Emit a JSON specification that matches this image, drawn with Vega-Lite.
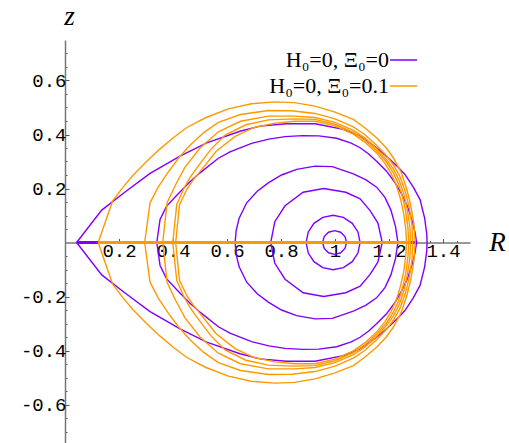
{
  "$schema": "https://vega.github.io/schema/vega-lite/v6.json",
  "width": 405,
  "height": 405,
  "autosize": {"type": "none"},
  "padding": {"left": 65, "top": 40, "right": 39, "bottom": 0},
  "background": "white",
  "config": {"view": {"stroke": null}},
  "resolve": {"axis": {"x": "independent", "y": "independent"}},
  "datasets": {
    "pur": [
      {"c":"p1","R":0.954,"z":0},{"c":"p1","R":0.96,"z":0.022},{"c":"p1","R":0.976,"z":0.038},{"c":"p1","R":0.9985,"z":0.044},{"c":"p1","R":1.021,"z":0.038},{"c":"p1","R":1.037,"z":0.022},{"c":"p1","R":1.043,"z":0},
      {"c":"p1","R":1.037,"z":-0.022},{"c":"p1","R":1.021,"z":-0.038},{"c":"p1","R":0.9985,"z":-0.044},{"c":"p1","R":0.976,"z":-0.038},{"c":"p1","R":0.96,"z":-0.022},{"c":"p1","R":0.954,"z":0},
      {"c":"p2","R":0.893,"z":0},{"c":"p2","R":0.901,"z":0.039},{"c":"p2","R":0.922,"z":0.071},{"c":"p2","R":0.955,"z":0.093},{"c":"p2","R":0.993,"z":0.101},{"c":"p2","R":1.031,"z":0.093},{"c":"p2","R":1.064,"z":0.071},{"c":"p2","R":1.085,"z":0.039},{"c":"p2","R":1.093,"z":0},
      {"c":"p2","R":1.085,"z":-0.039},{"c":"p2","R":1.064,"z":-0.071},{"c":"p2","R":1.031,"z":-0.093},{"c":"p2","R":0.993,"z":-0.101},{"c":"p2","R":0.955,"z":-0.093},{"c":"p2","R":0.922,"z":-0.071},{"c":"p2","R":0.901,"z":-0.039},{"c":"p2","R":0.893,"z":0},
      {"c":"p3","R":0.762,"z":0},{"c":"p3","R":0.777,"z":0.077},{"c":"p3","R":0.815,"z":0.136},{"c":"p3","R":0.882,"z":0.186},{"c":"p3","R":0.958,"z":0.2},{"c":"p3","R":1.04,"z":0.186},{"c":"p3","R":1.093,"z":0.162},{"c":"p3","R":1.13,"z":0.118},{"c":"p3","R":1.159,"z":0.072},{"c":"p3","R":1.175,"z":0},
      {"c":"p3","R":1.159,"z":-0.072},{"c":"p3","R":1.13,"z":-0.118},{"c":"p3","R":1.093,"z":-0.162},{"c":"p3","R":1.04,"z":-0.186},{"c":"p3","R":0.958,"z":-0.2},{"c":"p3","R":0.882,"z":-0.186},{"c":"p3","R":0.815,"z":-0.136},{"c":"p3","R":0.777,"z":-0.077},{"c":"p3","R":0.762,"z":0},
      {"c":"p4","R":0.63,"z":0},{"c":"p4","R":0.634,"z":0.045},{"c":"p4","R":0.645,"z":0.09},{"c":"p4","R":0.673,"z":0.147},{"c":"p4","R":0.712,"z":0.19},{"c":"p4","R":0.753,"z":0.221},{"c":"p4","R":0.802,"z":0.25},{"c":"p4","R":0.858,"z":0.271},{"c":"p4","R":0.926,"z":0.283},{"c":"p4","R":0.99,"z":0.281},{"c":"p4","R":1.068,"z":0.254},{"c":"p4","R":1.115,"z":0.232},{"c":"p4","R":1.154,"z":0.205},{"c":"p4","R":1.185,"z":0.167},{"c":"p4","R":1.207,"z":0.12},{"c":"p4","R":1.224,"z":0.06},{"c":"p4","R":1.233,"z":0},
      {"c":"p4","R":1.224,"z":-0.06},{"c":"p4","R":1.207,"z":-0.12},{"c":"p4","R":1.185,"z":-0.167},{"c":"p4","R":1.154,"z":-0.205},{"c":"p4","R":1.115,"z":-0.232},{"c":"p4","R":1.068,"z":-0.254},{"c":"p4","R":0.99,"z":-0.281},{"c":"p4","R":0.926,"z":-0.283},{"c":"p4","R":0.858,"z":-0.271},{"c":"p4","R":0.802,"z":-0.25},{"c":"p4","R":0.753,"z":-0.221},{"c":"p4","R":0.712,"z":-0.19},{"c":"p4","R":0.673,"z":-0.147},{"c":"p4","R":0.645,"z":-0.09},{"c":"p4","R":0.634,"z":-0.045},{"c":"p4","R":0.63,"z":0},
      {"c":"p5","R":0.34,"z":0},{"c":"p5","R":0.352,"z":0.085},{"c":"p5","R":0.376,"z":0.134},{"c":"p5","R":0.414,"z":0.175},{"c":"p5","R":0.463,"z":0.225},{"c":"p5","R":0.5,"z":0.258},{"c":"p5","R":0.568,"z":0.312},{"c":"p5","R":0.611,"z":0.336},{"c":"p5","R":0.691,"z":0.367},{"c":"p5","R":0.755,"z":0.383},{"c":"p5","R":0.815,"z":0.392},{"c":"p5","R":0.88,"z":0.396},{"c":"p5","R":0.94,"z":0.395},{"c":"p5","R":1.006,"z":0.386},{"c":"p5","R":1.06,"z":0.368},{"c":"p5","R":1.093,"z":0.351},{"c":"p5","R":1.125,"z":0.328},{"c":"p5","R":1.154,"z":0.301},{"c":"p5","R":1.19,"z":0.265},{"c":"p5","R":1.22,"z":0.225},{"c":"p5","R":1.245,"z":0.183},{"c":"p5","R":1.268,"z":0.135},{"c":"p5","R":1.286,"z":0.08},{"c":"p5","R":1.297,"z":0.035},{"c":"p5","R":1.302,"z":0},
      {"c":"p5","R":1.297,"z":-0.035},{"c":"p5","R":1.286,"z":-0.08},{"c":"p5","R":1.268,"z":-0.135},{"c":"p5","R":1.245,"z":-0.183},{"c":"p5","R":1.22,"z":-0.225},{"c":"p5","R":1.19,"z":-0.265},{"c":"p5","R":1.154,"z":-0.301},{"c":"p5","R":1.125,"z":-0.328},{"c":"p5","R":1.093,"z":-0.351},{"c":"p5","R":1.06,"z":-0.368},{"c":"p5","R":1.006,"z":-0.386},{"c":"p5","R":0.94,"z":-0.395},{"c":"p5","R":0.88,"z":-0.396},{"c":"p5","R":0.815,"z":-0.392},{"c":"p5","R":0.755,"z":-0.383},{"c":"p5","R":0.691,"z":-0.367},{"c":"p5","R":0.611,"z":-0.336},{"c":"p5","R":0.568,"z":-0.312},{"c":"p5","R":0.5,"z":-0.258},{"c":"p5","R":0.463,"z":-0.225},{"c":"p5","R":0.414,"z":-0.175},{"c":"p5","R":0.376,"z":-0.134},{"c":"p5","R":0.352,"z":-0.085},{"c":"p5","R":0.34,"z":0},
      {"c":"p6","R":0.043,"z":0},{"c":"p6","R":0.136,"z":0.12},{"c":"p6","R":0.22,"z":0.185},{"c":"p6","R":0.315,"z":0.256},{"c":"p6","R":0.426,"z":0.32},{"c":"p6","R":0.525,"z":0.369},{"c":"p6","R":0.648,"z":0.412},{"c":"p6","R":0.722,"z":0.431},{"c":"p6","R":0.82,"z":0.44},{"c":"p6","R":0.926,"z":0.44},{"c":"p6","R":1.031,"z":0.419},{"c":"p6","R":1.09,"z":0.395},{"c":"p6","R":1.13,"z":0.369},{"c":"p6","R":1.17,"z":0.338},{"c":"p6","R":1.204,"z":0.307},{"c":"p6","R":1.235,"z":0.278},{"c":"p6","R":1.259,"z":0.252},{"c":"p6","R":1.29,"z":0.205},{"c":"p6","R":1.315,"z":0.159},{"c":"p6","R":1.332,"z":0.09},{"c":"p6","R":1.34,"z":0.03},{"c":"p6","R":1.341,"z":0},
      {"c":"p6","R":1.34,"z":-0.03},{"c":"p6","R":1.332,"z":-0.09},{"c":"p6","R":1.315,"z":-0.159},{"c":"p6","R":1.29,"z":-0.205},{"c":"p6","R":1.259,"z":-0.252},{"c":"p6","R":1.235,"z":-0.278},{"c":"p6","R":1.204,"z":-0.307},{"c":"p6","R":1.17,"z":-0.338},{"c":"p6","R":1.13,"z":-0.369},{"c":"p6","R":1.09,"z":-0.395},{"c":"p6","R":1.031,"z":-0.419},{"c":"p6","R":0.926,"z":-0.44},{"c":"p6","R":0.82,"z":-0.44},{"c":"p6","R":0.722,"z":-0.431},{"c":"p6","R":0.648,"z":-0.412},{"c":"p6","R":0.525,"z":-0.369},{"c":"p6","R":0.426,"z":-0.32},{"c":"p6","R":0.315,"z":-0.256},{"c":"p6","R":0.22,"z":-0.185},{"c":"p6","R":0.136,"z":-0.12},{"c":"p6","R":0.043,"z":0}
    ],
    "pax": [{"R":0.043,"z":0},{"R":1.305,"z":0}],
    "org": [
      {"c":"o5","R":0.123,"z":0},{"c":"o5","R":0.176,"z":0.153},{"c":"o5","R":0.215,"z":0.205},{"c":"o5","R":0.253,"z":0.25},{"c":"o5","R":0.3,"z":0.298},{"c":"o5","R":0.35,"z":0.345},{"c":"o5","R":0.4,"z":0.387},{"c":"o5","R":0.45,"z":0.425},{"c":"o5","R":0.52,"z":0.462},{"c":"o5","R":0.605,"z":0.495},{"c":"o5","R":0.69,"z":0.514},{"c":"o5","R":0.778,"z":0.521},{"c":"o5","R":0.85,"z":0.518},{"c":"o5","R":0.926,"z":0.505},{"c":"o5","R":1.0,"z":0.483},{"c":"o5","R":1.068,"z":0.456},{"c":"o5","R":1.11,"z":0.425},{"c":"o5","R":1.154,"z":0.388},{"c":"o5","R":1.19,"z":0.35},{"c":"o5","R":1.216,"z":0.314},{"c":"o5","R":1.245,"z":0.26},{"c":"o5","R":1.265,"z":0.2},{"c":"o5","R":1.28,"z":0.14},{"c":"o5","R":1.292,"z":0.07},{"c":"o5","R":1.297,"z":0},
      {"c":"o5","R":1.292,"z":-0.07},{"c":"o5","R":1.28,"z":-0.14},{"c":"o5","R":1.265,"z":-0.2},{"c":"o5","R":1.245,"z":-0.26},{"c":"o5","R":1.216,"z":-0.314},{"c":"o5","R":1.19,"z":-0.35},{"c":"o5","R":1.154,"z":-0.388},{"c":"o5","R":1.11,"z":-0.425},{"c":"o5","R":1.068,"z":-0.456},{"c":"o5","R":1.0,"z":-0.483},{"c":"o5","R":0.926,"z":-0.505},{"c":"o5","R":0.85,"z":-0.518},{"c":"o5","R":0.778,"z":-0.521},{"c":"o5","R":0.69,"z":-0.514},{"c":"o5","R":0.605,"z":-0.495},{"c":"o5","R":0.52,"z":-0.462},{"c":"o5","R":0.45,"z":-0.425},{"c":"o5","R":0.4,"z":-0.387},{"c":"o5","R":0.35,"z":-0.345},{"c":"o5","R":0.3,"z":-0.298},{"c":"o5","R":0.253,"z":-0.25},{"c":"o5","R":0.215,"z":-0.205},{"c":"o5","R":0.176,"z":-0.153},{"c":"o5","R":0.123,"z":0},
      {"c":"o4","R":0.295,"z":0},{"c":"o4","R":0.315,"z":0.147},{"c":"o4","R":0.345,"z":0.205},{"c":"o4","R":0.38,"z":0.258},{"c":"o4","R":0.42,"z":0.312},{"c":"o4","R":0.463,"z":0.36},{"c":"o4","R":0.515,"z":0.408},{"c":"o4","R":0.568,"z":0.445},{"c":"o4","R":0.65,"z":0.474},{"c":"o4","R":0.753,"z":0.489},{"c":"o4","R":0.84,"z":0.488},{"c":"o4","R":0.926,"z":0.478},{"c":"o4","R":1.0,"z":0.458},{"c":"o4","R":1.068,"z":0.428},{"c":"o4","R":1.11,"z":0.4},{"c":"o4","R":1.154,"z":0.36},{"c":"o4","R":1.19,"z":0.322},{"c":"o4","R":1.216,"z":0.288},{"c":"o4","R":1.24,"z":0.245},{"c":"o4","R":1.26,"z":0.19},{"c":"o4","R":1.275,"z":0.13},{"c":"o4","R":1.285,"z":0.065},{"c":"o4","R":1.288,"z":0},
      {"c":"o4","R":1.285,"z":-0.065},{"c":"o4","R":1.275,"z":-0.13},{"c":"o4","R":1.26,"z":-0.19},{"c":"o4","R":1.24,"z":-0.245},{"c":"o4","R":1.216,"z":-0.288},{"c":"o4","R":1.19,"z":-0.322},{"c":"o4","R":1.154,"z":-0.36},{"c":"o4","R":1.11,"z":-0.4},{"c":"o4","R":1.068,"z":-0.428},{"c":"o4","R":1.0,"z":-0.458},{"c":"o4","R":0.926,"z":-0.478},{"c":"o4","R":0.84,"z":-0.488},{"c":"o4","R":0.753,"z":-0.489},{"c":"o4","R":0.65,"z":-0.474},{"c":"o4","R":0.568,"z":-0.445},{"c":"o4","R":0.515,"z":-0.408},{"c":"o4","R":0.463,"z":-0.36},{"c":"o4","R":0.42,"z":-0.312},{"c":"o4","R":0.38,"z":-0.258},{"c":"o4","R":0.345,"z":-0.205},{"c":"o4","R":0.315,"z":-0.147},{"c":"o4","R":0.295,"z":0},
      {"c":"o3","R":0.362,"z":0},{"c":"o3","R":0.378,"z":0.147},{"c":"o3","R":0.41,"z":0.215},{"c":"o3","R":0.444,"z":0.278},{"c":"o3","R":0.5,"z":0.35},{"c":"o3","R":0.568,"z":0.41},{"c":"o3","R":0.65,"z":0.449},{"c":"o3","R":0.753,"z":0.468},{"c":"o3","R":0.85,"z":0.468},{"c":"o3","R":0.926,"z":0.463},{"c":"o3","R":1.0,"z":0.445},{"c":"o3","R":1.068,"z":0.415},{"c":"o3","R":1.11,"z":0.388},{"c":"o3","R":1.154,"z":0.348},{"c":"o3","R":1.19,"z":0.308},{"c":"o3","R":1.216,"z":0.273},{"c":"o3","R":1.238,"z":0.23},{"c":"o3","R":1.255,"z":0.18},{"c":"o3","R":1.268,"z":0.12},{"c":"o3","R":1.277,"z":0.06},{"c":"o3","R":1.28,"z":0},
      {"c":"o3","R":1.277,"z":-0.06},{"c":"o3","R":1.268,"z":-0.12},{"c":"o3","R":1.255,"z":-0.18},{"c":"o3","R":1.238,"z":-0.23},{"c":"o3","R":1.216,"z":-0.273},{"c":"o3","R":1.19,"z":-0.308},{"c":"o3","R":1.154,"z":-0.348},{"c":"o3","R":1.11,"z":-0.388},{"c":"o3","R":1.068,"z":-0.415},{"c":"o3","R":1.0,"z":-0.445},{"c":"o3","R":0.926,"z":-0.463},{"c":"o3","R":0.85,"z":-0.468},{"c":"o3","R":0.753,"z":-0.468},{"c":"o3","R":0.65,"z":-0.449},{"c":"o3","R":0.568,"z":-0.41},{"c":"o3","R":0.5,"z":-0.35},{"c":"o3","R":0.444,"z":-0.278},{"c":"o3","R":0.41,"z":-0.215},{"c":"o3","R":0.378,"z":-0.147},{"c":"o3","R":0.362,"z":0},
      {"c":"o2","R":0.399,"z":0},{"c":"o2","R":0.414,"z":0.141},{"c":"o2","R":0.44,"z":0.2},{"c":"o2","R":0.463,"z":0.24},{"c":"o2","R":0.481,"z":0.266},{"c":"o2","R":0.54,"z":0.345},{"c":"o2","R":0.593,"z":0.398},{"c":"o2","R":0.67,"z":0.436},{"c":"o2","R":0.753,"z":0.454},{"c":"o2","R":0.85,"z":0.458},{"c":"o2","R":0.926,"z":0.456},{"c":"o2","R":1.0,"z":0.438},{"c":"o2","R":1.068,"z":0.408},{"c":"o2","R":1.11,"z":0.38},{"c":"o2","R":1.154,"z":0.34},{"c":"o2","R":1.19,"z":0.299},{"c":"o2","R":1.214,"z":0.262},{"c":"o2","R":1.234,"z":0.22},{"c":"o2","R":1.25,"z":0.17},{"c":"o2","R":1.262,"z":0.115},{"c":"o2","R":1.27,"z":0.055},{"c":"o2","R":1.273,"z":0},
      {"c":"o2","R":1.27,"z":-0.055},{"c":"o2","R":1.262,"z":-0.115},{"c":"o2","R":1.25,"z":-0.17},{"c":"o2","R":1.234,"z":-0.22},{"c":"o2","R":1.214,"z":-0.262},{"c":"o2","R":1.19,"z":-0.299},{"c":"o2","R":1.154,"z":-0.34},{"c":"o2","R":1.11,"z":-0.38},{"c":"o2","R":1.068,"z":-0.408},{"c":"o2","R":1.0,"z":-0.438},{"c":"o2","R":0.926,"z":-0.456},{"c":"o2","R":0.85,"z":-0.458},{"c":"o2","R":0.753,"z":-0.454},{"c":"o2","R":0.67,"z":-0.436},{"c":"o2","R":0.593,"z":-0.398},{"c":"o2","R":0.54,"z":-0.345},{"c":"o2","R":0.481,"z":-0.266},{"c":"o2","R":0.463,"z":-0.24},{"c":"o2","R":0.44,"z":-0.2},{"c":"o2","R":0.414,"z":-0.141},{"c":"o2","R":0.399,"z":0},
      {"c":"o1","R":0.41,"z":0},{"c":"o1","R":0.424,"z":0.14},{"c":"o1","R":0.452,"z":0.198},{"c":"o1","R":0.475,"z":0.232},{"c":"o1","R":0.494,"z":0.255},{"c":"o1","R":0.56,"z":0.338},{"c":"o1","R":0.63,"z":0.393},{"c":"o1","R":0.7,"z":0.426},{"c":"o1","R":0.778,"z":0.442},{"c":"o1","R":0.85,"z":0.449},{"c":"o1","R":0.926,"z":0.449},{"c":"o1","R":1.0,"z":0.432},{"c":"o1","R":1.068,"z":0.401},{"c":"o1","R":1.11,"z":0.372},{"c":"o1","R":1.154,"z":0.332},{"c":"o1","R":1.185,"z":0.293},{"c":"o1","R":1.208,"z":0.255},{"c":"o1","R":1.228,"z":0.21},{"c":"o1","R":1.243,"z":0.16},{"c":"o1","R":1.255,"z":0.105},{"c":"o1","R":1.262,"z":0.05},{"c":"o1","R":1.265,"z":0},
      {"c":"o1","R":1.262,"z":-0.05},{"c":"o1","R":1.255,"z":-0.105},{"c":"o1","R":1.243,"z":-0.16},{"c":"o1","R":1.228,"z":-0.21},{"c":"o1","R":1.208,"z":-0.255},{"c":"o1","R":1.185,"z":-0.293},{"c":"o1","R":1.154,"z":-0.332},{"c":"o1","R":1.11,"z":-0.372},{"c":"o1","R":1.068,"z":-0.401},{"c":"o1","R":1.0,"z":-0.432},{"c":"o1","R":0.926,"z":-0.449},{"c":"o1","R":0.85,"z":-0.449},{"c":"o1","R":0.778,"z":-0.442},{"c":"o1","R":0.7,"z":-0.426},{"c":"o1","R":0.63,"z":-0.393},{"c":"o1","R":0.56,"z":-0.338},{"c":"o1","R":0.494,"z":-0.255},{"c":"o1","R":0.475,"z":-0.232},{"c":"o1","R":0.452,"z":-0.198},{"c":"o1","R":0.424,"z":-0.14},{"c":"o1","R":0.41,"z":0}
    ],
    "oax": [{"R":0.123,"z":0},{"R":1.28,"z":0}]
  },
  "layer": [
    {
      "data": {"name": "pur"},
      "mark": {"type": "line", "strokeWidth": 1.4, "interpolate": "linear"},
      "encoding": {
        "x": {
          "field": "R", "type": "quantitative",
          "scale": {"domain": [0, 1.5], "nice": false, "zero": false},
          "axis": {
            "orient": "bottom", "offset": -202.5, "grid": false,
            "values": [0.05,0.1,0.15,0.25,0.3,0.35,0.45,0.5,0.55,0.65,0.7,0.75,0.85,0.9,0.95,1.05,1.1,1.15,1.25,1.3,1.35,1.45],
            "labels": false, "tickSize": -2, "tickColor": "#555", "tickWidth": 1,
            "domainColor": "#777", "domainWidth": 1.5, "title": null
          }
        },
        "y": {
          "field": "z", "type": "quantitative",
          "scale": {"domain": [-0.75, 0.75], "nice": false, "zero": false},
          "axis": {
            "orient": "left", "grid": false,
            "values": [-0.7,-0.65,-0.55,-0.5,-0.45,-0.35,-0.3,-0.25,-0.15,-0.1,-0.05,0.05,0.1,0.15,0.25,0.3,0.35,0.45,0.5,0.55,0.65,0.7],
            "labels": false, "tickSize": -2, "tickColor": "#555", "tickWidth": 1,
            "domainColor": "#777", "domainWidth": 1.5, "title": null
          }
        },
        "detail": {"field": "c"},
        "order": {"value": null},
        "color": {
          "datum": "H₀=0, Ξ₀=0",
          "scale": {"domain": ["H₀=0, Ξ₀=0", "H₀=0, Ξ₀=0.1"], "range": ["#7f00ff", "#ff9900"]},
          "legend": {
            "orient": "none", "legendX": 324, "legendY": 5.5, "title": null, "padding": 0,
            "symbolType": "stroke", "symbolSize": 729, "symbolStrokeWidth": 1.5,
            "labelFont": "Liberation Serif", "labelFontSize": 22, "labelColor": "#000",
            "labelAlign": "right", "labelOffset": -29, "labelLimit": 0, "rowPadding": 0
          }
        }
      }
    },
    {
      "data": {"name": "pax"},
      "mark": {"type": "line", "strokeWidth": 3},
      "encoding": {
        "x": {
          "field": "R", "type": "quantitative",
          "axis": {
            "orient": "bottom", "offset": -202.5, "grid": false, "domain": false,
            "values": [0.2,0.4,0.6,0.8,1,1.2,1.4],
            "labelExpr": "'' + datum.value",
            "tickSize": -4, "tickColor": "#555", "tickWidth": 1,
            "labelFont": "Liberation Mono", "labelFontSize": 19, "labelColor": "#000",
            "labelPadding": 3, "labelFlush": false, "labelOverlap": false, "labelBound": false,
            "title": "R", "titleFont": "Liberation Serif", "titleFontStyle": "italic", "titleFontWeight": "normal",
            "titleFontSize": 27, "titleColor": "#000", "titleAngle": 0, "titleX": 432, "titleY": 0,
            "titleAlign": "center", "titleBaseline": "middle"
          }
        },
        "y": {
          "field": "z", "type": "quantitative",
          "axis": {
            "orient": "left", "grid": false, "domain": false,
            "values": [-0.6,-0.4,-0.2,0.2,0.4,0.6],
            "labelExpr": "'' + datum.value",
            "tickSize": -4, "tickColor": "#555", "tickWidth": 1,
            "labelFont": "Liberation Mono", "labelFontSize": 19, "labelColor": "#000",
            "labelPadding": 3, "labelFlush": false, "labelOverlap": false, "labelBound": false,
            "title": "z", "titleFont": "Liberation Serif", "titleFontStyle": "italic", "titleFontWeight": "normal",
            "titleFontSize": 27, "titleColor": "#000", "titleAngle": 0, "titleX": 4, "titleY": -16,
            "titleAlign": "center", "titleBaseline": "alphabetic"
          }
        },
        "color": {"datum": "H₀=0, Ξ₀=0"}
      }
    },
    {
      "data": {"name": "org"},
      "mark": {"type": "line", "strokeWidth": 1.4, "interpolate": "linear"},
      "encoding": {
        "x": {"field": "R", "type": "quantitative", "axis": null},
        "y": {"field": "z", "type": "quantitative", "axis": null},
        "detail": {"field": "c"},
        "order": {"value": null},
        "color": {"datum": "H₀=0, Ξ₀=0.1"}
      }
    },
    {
      "data": {"name": "oax"},
      "mark": {"type": "line", "strokeWidth": 3},
      "encoding": {
        "x": {"field": "R", "type": "quantitative", "axis": null},
        "y": {"field": "z", "type": "quantitative", "axis": null},
        "color": {"datum": "H₀=0, Ξ₀=0.1"}
      }
    }
  ]
}
